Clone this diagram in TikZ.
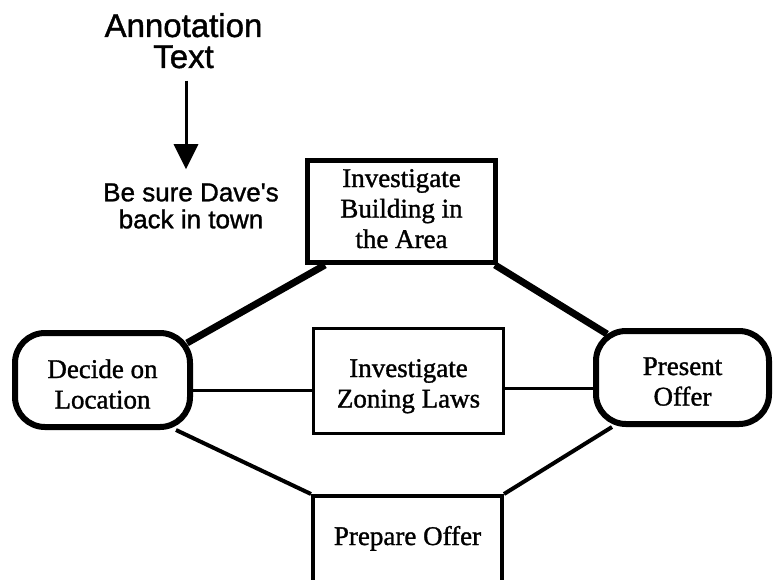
\documentclass[tikz,border=0pt]{standalone}
\usepackage{fontspec}
\setmainfont{Liberation Serif}[FakeBold=1.2]
\newfontfamily\annfont{Liberation Sans}[FakeBold=1.2]
\usetikzlibrary{calc,arrows.meta}
\newcommand\toppad[1]{\rule{0pt}{#1pt}}
\newcommand\botpad{\rule[-8pt]{0pt}{0pt}}
\tikzset{
  boxtext/.style={font=\fontsize{27}{30.5}\selectfont, align=center, inner sep=0pt},
  heavybox/.style={boxtext, draw, line width=5pt, rectangle},
  lightbox/.style={boxtext, draw, line width=3pt, rectangle},
  medbox/.style={boxtext, draw, line width=4pt, rectangle},
  roundbox/.style={boxtext, draw, line width=6pt, rounded corners=30pt, rectangle},
  heavyline/.style={line width=7pt},
  lightline/.style={line width=3pt},
  medline/.style={line width=4pt},
  anntext/.style={font=\annfont\fontsize{33}{31}\selectfont, align=center, inner sep=0pt},
  notetext/.style={font=\annfont\fontsize{26}{27}\selectfont, align=center, inner sep=0pt},
  annarrow/.style={line width=3pt, -{Triangle[length=25pt,width=24pt]}}
}
\begin{document}
\begin{tikzpicture}[x=1pt,y=-1pt]
\useasboundingbox (0,0) rectangle (773,579);
\fill[white] (0,0) rectangle (773,579);
% nodes
\node[heavybox, minimum width=188pt, minimum height=102pt] (top) at (401.5,211.5) {\toppad{20}Investigate\\Building in\\the Area\botpad};
\node[lightbox, minimum width=190pt, minimum height=105pt] (mid) at (408.5,381) {\toppad{30.5}Investigate\\Zoning Laws\botpad};
\node[medbox, minimum width=189pt, anchor=north, text height=49pt, text depth=80pt] (bot) at (407.5,494) {Prepare Offer};
\node[roundbox, minimum width=175pt, minimum height=94pt] (dec) at (102.5,380) {\toppad{34.5}Decide on\\Location\botpad};
\node[roundbox, minimum width=173pt, minimum height=93pt] (pres) at (682.5,377.5) {\toppad{33.5}Present\\Offer\botpad};
% connectors
\draw[heavyline] ($(dec.north east)+(-6,13)$) -- ($(top.south west)+(20,0)$);
\draw[heavyline] ($(top.south east)+(-3,0)$) -- ($(pres.north west)+(14,6)$);
\draw[lightline] ($(dec.east)+(0,10)$) -- ($(mid.west)+(0,9)$);
\draw[lightline] ($(mid.east)+(0,7)$) -- ($(pres.west)+(0,10.5)$);
\draw[medline] ($(dec.south east)+(-17,0)$) -- (bot.north west);
\draw[medline] (bot.north east) -- ($(pres.south west)+(19,0)$);
% annotation
\node[anntext] (ann) at (183.5,40.7) {Annotation\\Text};
\node[notetext] (note) at (191,206) {Be sure Dave's\\back in town};
\draw[annarrow] ($(ann.south)+(2.5,12)$) -- ($(ann.south |- note.north)+(2.5,-14)$);
\end{tikzpicture}
\end{document}
